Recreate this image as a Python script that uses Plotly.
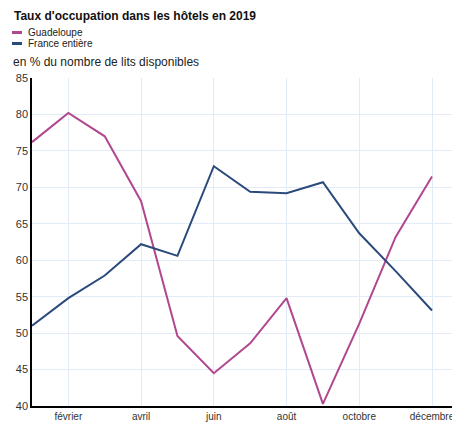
import plotly.graph_objects as go

months = ["janvier", "février", "mars", "avril", "mai", "juin", "juillet",
          "août", "septembre", "octobre", "novembre", "décembre"]
guadeloupe = [76.2, 80.2, 77.0, 68.1, 49.6, 44.5, 48.6, 54.8, 40.3, 51.3, 63.2, 71.5]
france = [51.0, 54.8, 57.9, 62.2, 60.6, 72.9, 69.4, 69.2, 70.7, 63.7, 58.5, 53.1]
tick_idx = [1, 3, 5, 7, 9, 11]
y_ticks = [40, 45, 50, 55, 60, 65, 70, 75, 80, 85]

C_GUA = "#b0478f"
C_FRA = "#2b4a7c"
FONT = "Liberation Sans, Arial, sans-serif"

x = list(range(len(months)))

fig = go.Figure()
fig.add_trace(go.Scatter(x=x, y=guadeloupe, mode="lines", name="Guadeloupe",
                         line=dict(color=C_GUA, width=2)))
fig.add_trace(go.Scatter(x=x, y=france, mode="lines", name="France entière",
                         line=dict(color=C_FRA, width=2)))

OFF = 8  # default body margin of the html page
L, R, T, B = 32 - OFF, 0, 78 - OFF, 17
W, H = 460 - OFF, 423 - OFF
pw, ph = W - L - R, H - T - B

def px(xp):
    return (xp - OFF - L) / pw

def py(yp):
    return (H - B - (yp - OFF)) / ph

fig.update_layout(
    width=W, height=H,
    margin=dict(l=L, r=R, t=T, b=B),
    paper_bgcolor="white", plot_bgcolor="white",
    showlegend=False,
    font=dict(family=FONT, color="#333333"),
    xaxis=dict(range=[0, 11.77], tickmode="array", tickvals=tick_idx,
               ticktext=[months[i] for i in tick_idx],
               showgrid=True, gridcolor="#e2ecf8", gridwidth=1,
               showline=True, linecolor="#000000", linewidth=1.5,
               ticks="", tickfont=dict(size=10, color="#333333"), zeroline=False,
               fixedrange=True),
    yaxis=dict(range=[40, 85], tickmode="array", tickvals=y_ticks,
               showgrid=True, gridcolor="#e2ecf8", gridwidth=1,
               showline=True, linecolor="#000000", linewidth=1.5,
               ticks="", tickfont=dict(size=11, color="#333333"), zeroline=False,
               fixedrange=True),
)

annotations = [
    dict(text="<b>Taux d'occupation dans les hôtels en 2019</b>", x=px(12), y=py(16),
         xanchor="left", yanchor="middle", font=dict(size=12, color="#111111")),
    dict(text="Guadeloupe", x=px(26), y=py(32), xanchor="left", yanchor="middle",
         font=dict(size=10, color="#222222")),
    dict(text="France entière", x=px(26), y=py(43.5), xanchor="left", yanchor="middle",
         font=dict(size=10, color="#222222")),
    dict(text="en % du nombre de lits disponibles", x=px(11), y=py(62),
         xanchor="left", yanchor="middle", font=dict(size=12, color="#222222")),
]
for a in annotations:
    a.update(xref="paper", yref="paper", showarrow=False)
fig.update_layout(annotations=annotations)

fig.update_layout(shapes=[
    dict(type="line", xref="paper", yref="paper", x0=px(12), x1=px(22),
         y0=py(32.5), y1=py(32.5), line=dict(color=C_GUA, width=3)),
    dict(type="line", xref="paper", yref="paper", x0=px(12), x1=px(22),
         y0=py(43.5), y1=py(43.5), line=dict(color=C_FRA, width=3)),
])

fig.write_html("out.html", config={"displayModeBar": False})
